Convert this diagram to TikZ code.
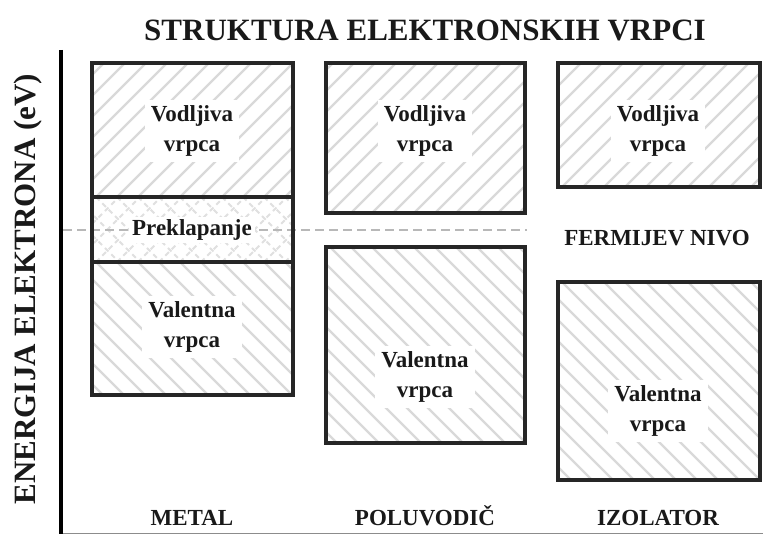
\documentclass[tikz,border=0pt]{standalone}
\usepackage{fontspec}
\setmainfont{Liberation Serif}
\newcommand\hatchNE[4]{%
  \begin{scope}
    \clip (#1,#2) rectangle (#3,#4);
    \foreach \k in {-500,-479,...,300} {\draw[hatchline] ({#1+\k},#4) -- ++(420,-420);}
  \end{scope}}
\newcommand\hatchSE[4]{%
  \begin{scope}
    \clip (#1,#2) rectangle (#3,#4);
    \foreach \k in {-500,-479,...,300} {\draw[hatchline] ({#1+\k},#2) -- ++(420,420);}
  \end{scope}}
\newcommand\hatchX[4]{%
  \begin{scope}
    \clip (#1,#2) rectangle (#3,#4);
    \foreach \k in {-500,-479,...,300} {\draw[crossline] ({#1+\k},#4) -- ++(420,-420);
      \draw[crossline] ({#1+\k},#2) -- ++(420,420);}
  \end{scope}}
\begin{document}
\begin{tikzpicture}[x=1pt,y=-1pt,
  band/.style={line width=3.5pt, draw=black!85},
  hatchline/.style={draw=black!15, line width=2.2pt},
  crossline/.style={draw=black!12, line width=1.8pt, dash pattern=on 5pt off 4pt},
  lbl/.style={font=\bfseries\fontsize{23}{30}\selectfont, fill=white, align=center, inner sep=6pt, text=black!90},
  captext/.style={font=\bfseries\fontsize{23}{24}\selectfont, text=black!90},
  big/.style={font=\bfseries\fontsize{31}{32}\selectfont, text=black!90},
  fermi/.style={draw=black!28, line width=1.6pt, dash pattern=on 9pt off 5pt},
  axis/.style={line width=4.5pt, draw=black}]
\useasboundingbox (0,0) rectangle (763,534);
\fill[white] (0,0) rectangle (763,534);

% hatching
\hatchNE{92}{63}{293}{197}
\hatchX{92}{197}{293}{262}
\hatchSE{92}{262}{293}{395}
\hatchNE{326}{63}{525}{213}
\hatchSE{326}{247}{525}{443}
\hatchNE{558}{63}{760}{187}
\hatchSE{558}{282}{760}{480}

% Fermi level
\coordinate (f1) at (63,230);
\coordinate (f2) at (527,230);
\draw[fermi] (f1) -- (f2);

% bands
\draw[band] (92,63) rectangle (293,395);
\draw[band] (92,197) -- (293,197);
\draw[band] (92,262) -- (293,262);
\draw[band] (326,63) rectangle (525,213);
\draw[band] (326,247) rectangle (525,443);
\draw[band] (558,63) rectangle (760,187);
\draw[band] (558,282) rectangle (760,480);

% axes
\coordinate (a1) at (61,50);
\coordinate (a2) at (61,534);
\coordinate (b1) at (61,533);
\coordinate (b2) at (763,533);
\draw[draw=black!45, line width=1pt] (b1) -- (b2);
\draw[axis] (a1) -- (a2);

% texts
\node[big] (title) at (425,30) {STRUKTURA ELEKTRONSKIH VRPCI};
\node[big, rotate=90] (ylab) at (28,289) {ENERGIJA ELEKTRONA (eV)};

\node[lbl] (mc) at (192,131) {Vodljiva\\vrpca};
\node[lbl, inner sep=3pt] (mo) at (192,230) {Preklapanje};
\node[lbl] (mv) at (192,327) {Valentna\\vrpca};
\node[lbl] (pc) at (425,131) {Vodljiva\\vrpca};
\node[lbl] (pv) at (425,377) {Valentna\\vrpca};
\node[lbl] (ic) at (658,131) {Vodljiva\\vrpca};
\node[lbl] (iv) at (658,411) {Valentna\\vrpca};
\node[captext] (fn) at (657,238) {FERMIJEV NIVO};

\node[captext, anchor=base] (m) at (192,525) {METAL};
\node[captext, anchor=base] (p) at (425,525) {POLUVODIČ};
\node[captext, anchor=base] (i) at (658,525) {IZOLATOR};
\end{tikzpicture}
\end{document}
